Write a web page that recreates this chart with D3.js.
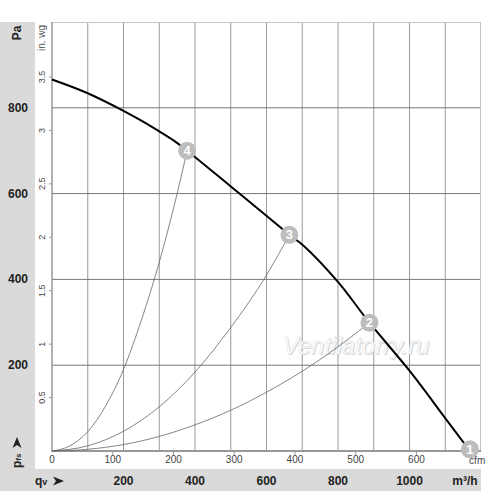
<!DOCTYPE html>
<html>
<head>
<meta charset="utf-8">
<script src="https://cdn.jsdelivr.net/npm/d3@7"></script>
<style>
  body { margin: 0; background: #fff; }
  text { font-family: Arial, "Liberation Sans", sans-serif; }
</style>
</head>
<body>
<svg width="500" height="492"></svg>
<script>
// fan curve (m3/h vs Pa)
const fanQ  = [0, 100, 200, 250, 298, 340, 378, 501, 615, 664, 703, 801, 888, 1001, 1104, 1169];
const fanPa = [866, 834, 793, 770, 746, 724, 700, 616, 538, 504, 479, 393, 299, 186, 72, 0];

// system curves through the numbered points
const sys4Q  = [0, 50, 100, 150, 200, 250, 300, 350, 378];
const sys4Pa = [0, 12, 45, 105, 190, 305, 440, 600, 700];
const sys3Q  = [0, 100, 200, 300, 400, 500, 600, 664];
const sys3Pa = [0, 12, 46, 103, 184, 288, 410, 504];
const sys2Q  = [0, 100, 200, 300, 400, 500, 600, 700, 800, 888];
const sys2Pa = [0, 4, 15, 34, 61, 95, 137, 186, 243, 299];

// numbered markers
const markerLabels = ["1", "2", "3", "4"];
const markerQ  = [1169, 888, 664, 378];
const markerPa = [4, 299, 504, 700];

// tick labels
const paTicks   = [200, 400, 600, 800];
const m3hTicks  = [200, 400, 600, 800, 1000];
const cfmTicks  = [0, 100, 200, 300, 400, 500, 600];
const inwgTicks = [0.5, 1, 1.5, 2, 2.5, 3, 3.5];

const plotL = 52, plotR = 481, plotT = 22, plotB = 451;

const svg = d3.select("svg");

const x = d3.scaleLinear().domain([0, 1200]).range([plotL, plotR]);
const y = d3.scaleLinear().domain([0, 1000]).range([plotB, plotT]);
const xCfm = d3.scaleLinear().domain([0, 1200 / 1.699]).range([plotL, plotR]);
const yIn = d3.scaleLinear().domain([0, 1000 / 249.09]).range([plotB, plotT]);

// gray bands
svg.append("rect").attr("x", 0).attr("y", plotT).attr("width", 35).attr("height", 491 - plotT).attr("fill", "#dadada");
svg.append("rect").attr("x", 0).attr("y", 469).attr("width", plotR).attr("height", 22).attr("fill", "#dadada");

// grid
svg.append("g").selectAll("line").data(d3.range(100, 1200, 100)).enter().append("line")
    .attr("x1", d => x(d)).attr("x2", d => x(d))
    .attr("y1", plotT).attr("y2", plotB)
    .attr("stroke", "#9a9a9a").attr("stroke-width", 1);
svg.append("g").selectAll("line").data(paTicks).enter().append("line")
    .attr("x1", plotL).attr("x2", plotR)
    .attr("y1", d => y(d)).attr("y2", d => y(d))
    .attr("stroke", "#777").attr("stroke-width", 1);

// border
svg.append("line").attr("x1", plotL).attr("x2", plotR).attr("y1", plotT + 0.5).attr("y2", plotT + 0.5)
    .attr("stroke", "#c4c4c4");
svg.append("line").attr("x1", plotR - 0.5).attr("x2", plotR - 0.5).attr("y1", plotT).attr("y2", plotB)
    .attr("stroke", "#c4c4c4");

// axes lines
svg.append("line").attr("x1", plotL).attr("x2", plotL).attr("y1", plotT).attr("y2", plotB + 1)
    .attr("stroke", "#999").attr("stroke-width", 1.5);
svg.append("line").attr("x1", plotL).attr("x2", plotR).attr("y1", plotB).attr("y2", plotB)
    .attr("stroke", "#999").attr("stroke-width", 2);

// cfm ticks + labels
svg.append("g").selectAll("line").data(cfmTicks.slice(1)).enter().append("line")
    .attr("x1", d => xCfm(d)).attr("x2", d => xCfm(d))
    .attr("y1", plotB).attr("y2", plotB + 4)
    .attr("stroke", "#999");
svg.append("g").selectAll("text").data(cfmTicks).enter().append("text")
    .attr("x", d => xCfm(d)).attr("y", 463)
    .attr("text-anchor", "middle").attr("font-size", 10).attr("fill", "#444")
    .text(d => d);
svg.append("text").attr("x", xCfm(700)).attr("y", 464)
    .attr("text-anchor", "middle").attr("font-size", 10).attr("fill", "#444").text("cfm");

// in. wg ticks + labels
svg.append("g").selectAll("line").data(inwgTicks).enter().append("line")
    .attr("x1", plotL - 3).attr("x2", plotL)
    .attr("y1", d => yIn(d)).attr("y2", d => yIn(d))
    .attr("stroke", "#999");
svg.append("g").selectAll("text").data(inwgTicks).enter().append("text")
    .attr("transform", d => `translate(45, ${yIn(d)}) rotate(-90)`)
    .attr("text-anchor", "middle").attr("font-size", 9).attr("fill", "#444")
    .text(d => d);
svg.append("text").attr("transform", "translate(45, 38) rotate(-90)")
    .attr("text-anchor", "middle").attr("font-size", 10).attr("fill", "#555").text("in. wg");

// Pa labels in band
svg.append("g").selectAll("text").data(paTicks).enter().append("text")
    .attr("x", 18).attr("y", d => y(d) + 4)
    .attr("text-anchor", "middle").attr("font-size", 12).attr("font-weight", "bold").attr("fill", "#222")
    .text(d => d);
svg.append("text").attr("transform", "translate(21, 33) rotate(-90)")
    .attr("text-anchor", "middle").attr("font-size", 12).attr("font-weight", "bold").attr("fill", "#222")
    .text("Pa");

// m3/h labels in band
svg.append("g").selectAll("text").data(m3hTicks).enter().append("text")
    .attr("x", d => x(d)).attr("y", 485)
    .attr("text-anchor", "middle").attr("font-size", 12).attr("font-weight", "bold").attr("fill", "#222")
    .text(d => d);
svg.append("text").attr("x", 465).attr("y", 485)
    .attr("text-anchor", "middle").attr("font-size", 12).attr("font-weight", "bold").attr("fill", "#222")
    .text("m³/h");

// qv label with arrow
const arrow = "M0,-4.5 L11,0 L0,4.5 L3,0 Z";
const qv = svg.append("text").attr("x", 35).attr("y", 485)
    .attr("font-size", 12).attr("font-weight", "bold").attr("fill", "#222");
qv.append("tspan").text("q");
qv.append("tspan").attr("font-size", 9).text("v");
svg.append("path").attr("d", arrow).attr("transform", "translate(53, 481)").attr("fill", "#222");

// pfs label with arrow
const pfs = svg.append("text").attr("transform", "translate(21, 468) rotate(-90)")
    .attr("font-size", 12).attr("font-weight", "bold").attr("fill", "#222");
pfs.append("tspan").text("p");
pfs.append("tspan").attr("font-size", 8).text("fs");
svg.append("path").attr("d", arrow).attr("transform", "translate(17, 448) rotate(-90)").attr("fill", "#222");

// watermark (embossed look)
svg.append("text").attr("x", 357).attr("y", 355)
    .attr("text-anchor", "middle").attr("font-size", 24).attr("font-style", "italic")
    .attr("fill", "#d4d4d4")
    .text("Ventilatorry.ru");
svg.append("text").attr("x", 356).attr("y", 354)
    .attr("text-anchor", "middle").attr("font-size", 24).attr("font-style", "italic")
    .attr("fill", "#fff").attr("stroke", "#e2e2e2").attr("stroke-width", 0.5)
    .text("Ventilatorry.ru");

// system curves
const curveLine = d3.line().x(d => x(d[0])).y(d => y(d[1])).curve(d3.curveMonotoneX);
[[sys4Q, sys4Pa], [sys3Q, sys3Pa], [sys2Q, sys2Pa]].forEach(([qs, ps]) => {
    svg.append("path")
        .datum(qs.map((q, i) => [q, ps[i]]))
        .attr("d", curveLine)
        .attr("fill", "none").attr("stroke", "#666").attr("stroke-width", 0.8);
});

// fan curve
svg.append("path")
    .datum(fanQ.map((q, i) => [q, fanPa[i]]))
    .attr("d", d3.line().x(d => x(d[0])).y(d => y(d[1])).curve(d3.curveCatmullRom.alpha(0.5)))
    .attr("fill", "none").attr("stroke", "#000").attr("stroke-width", 2);

// markers
const mk = svg.append("g").selectAll("g").data(markerLabels).enter().append("g")
    .attr("transform", (d, i) => `translate(${x(markerQ[i])}, ${y(markerPa[i])})`);
mk.append("circle").attr("r", 9).attr("fill", "#bdbdbd");
mk.append("text").attr("y", 4.5).attr("text-anchor", "middle")
    .attr("font-size", 13).attr("font-weight", "bold").attr("fill", "#fff")
    .text(d => d);
</script>
</body>
</html>
